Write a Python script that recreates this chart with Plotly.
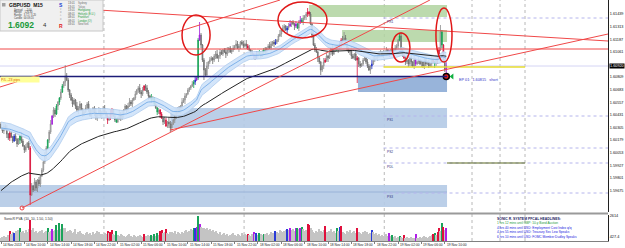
import pandas as pd
import plotly.graph_objects as go

# ---------------- data (GBPUSD M15) ----------------
close = [
    1.6030, 1.6027, 1.6032, 1.6029, 1.6024, 1.6020, 1.6025, 1.6021, 1.6017, 1.6022,
    1.6019, 1.6014, 1.6018, 1.6022, 1.6017, 1.6012, 1.6008, 1.6011, 1.6015, 1.6010,
    1.5963,
    1.5972, 1.5968, 1.5976, 1.5970, 1.5978, 1.5974, 1.5982, 1.5988,
    1.5996, 1.6003, 1.6010, 1.6018, 1.6026, 1.6034, 1.6042,
    1.6048, 1.6044, 1.6052, 1.6056, 1.6060, 1.6066, 1.6072, 1.6076, 1.6082, 1.6078, 1.6068,
    1.6063, 1.6058, 1.6054, 1.6058, 1.6052, 1.6048, 1.6050, 1.6054, 1.6048, 1.6044,
    1.6046, 1.6050, 1.6054, 1.6048, 1.6042, 1.6046, 1.6050, 1.6046, 1.6040, 1.6044,
    1.6048, 1.6042,
    1.6046, 1.6050, 1.6046, 1.6042, 1.6038, 1.6040, 1.6044, 1.6048, 1.6042, 1.6038,
    1.6036, 1.6040, 1.6044, 1.6040, 1.6044, 1.6048, 1.6052, 1.6048, 1.6052, 1.6056, 1.6054,
    1.6058, 1.6060, 1.6064, 1.6068, 1.6070, 1.6066, 1.6064, 1.6068, 1.6072, 1.6070, 1.6066,
    1.6062, 1.6060, 1.6058, 1.6060, 1.6054, 1.6050, 1.6046, 1.6048, 1.6044, 1.6040,
    1.6036, 1.6038, 1.6032, 1.6036, 1.6034, 1.6030,
    1.6034, 1.6038, 1.6042, 1.6046, 1.6050, 1.6046, 1.6052, 1.6056, 1.6058, 1.6062,
    1.6064, 1.6068, 1.6070, 1.6072, 1.6074, 1.6076, 1.6078,
    1.6080, 1.6118,
    1.6123, 1.6113, 1.6098,
    1.6088, 1.6083, 1.6092, 1.6096,
    1.6098, 1.6100, 1.6098, 1.6102, 1.6104, 1.6100, 1.6102, 1.6106, 1.6104, 1.6108,
    1.6106, 1.6104, 1.6108, 1.6110, 1.6106, 1.6108, 1.6110, 1.6112, 1.6114, 1.6110,
    1.6112, 1.6116, 1.6114, 1.6112, 1.6114, 1.6112,
    1.6110, 1.6108, 1.6106, 1.6104, 1.6102, 1.6100, 1.6103, 1.6106, 1.6104, 1.6102,
    1.6106, 1.6108, 1.6106, 1.6110, 1.6112, 1.6110, 1.6114, 1.6116, 1.6114, 1.6116, 1.6118,
    1.6122, 1.6124, 1.6128, 1.6130, 1.6132, 1.6128, 1.6130, 1.6132, 1.6134, 1.6136, 1.6134, 1.6132,
    1.6134, 1.6130, 1.6136, 1.6138, 1.6136, 1.6140, 1.6142, 1.6144, 1.6146, 1.6144,
    1.6134, 1.6123, 1.6113, 1.6108, 1.6106,
    1.6100, 1.6096, 1.6088, 1.6092, 1.6096, 1.6098,
    1.6102, 1.6100, 1.6106, 1.6110, 1.6104, 1.6108, 1.6112, 1.6108, 1.6110, 1.6114,
    1.6118, 1.6116, 1.6120, 1.6114, 1.6110,
    1.6106, 1.6108, 1.6102, 1.6100, 1.6104, 1.6098, 1.6100, 1.6094,
    1.6092, 1.6094, 1.6098, 1.6100, 1.6096, 1.6092, 1.6088, 1.6092, 1.6094, 1.6098, 1.6100,
    1.6100, 1.6102, 1.6104, 1.6106, 1.6102, 1.6104, 1.6106, 1.6108, 1.6104, 1.6106,
    1.6108, 1.6106, 1.6108, 1.6110,
    1.6112, 1.6118, 1.6122, 1.6108, 1.6103,
    1.6100, 1.6096, 1.6098, 1.6094, 1.6100, 1.6096, 1.6092, 1.6098, 1.6094, 1.6096,
    1.6098, 1.6094, 1.6096, 1.6092, 1.6098, 1.6094, 1.6096, 1.6092, 1.6094, 1.6098,
    1.6096, 1.6094, 1.6098, 1.6100,
    1.6108, 1.6126, 1.6113, 1.6098, 1.6088, 1.6092,
]
first_open = 1.6034
PIP = 0.0001
UP_WICK = ("2132413212 3121421312 2314213121 3212413221 1321432123 "
           "2142312132 3121241321 2312142132 1423121342 2131242312 "
           "3214213121 2132143212 3121423121 1324123212 2413212341 "
           "3212431223 1432123142 3121341232 2312431231 2413212341 "
           "2131242312 3121423121 1423121342 2132413212 3214213121 "
           "1321432123 2142312132 3212413221 2314213121 2312142132 "
           "3121241321")
DN_WICK = ("1231423121 2314213212 3121342312 2413212314 3212412313 "
           "1324213212 2131423213 3214123121 1232413212 3121324213 "
           "2413121324 1321242313 3212314212 2143121323 1232142314 "
           "3121423122 2314312132 1423213121 3212142312 2132413213 "
           "1421321324 3213121423 2312413212 1324212313 3121432121 "
           "2214312132 3121423212 1231421323 2413212132 3212131424 "
           "2131242312")
high_override = {44: 1.6093, 136: 1.6136, 210: 1.6150, 235: 1.6126, 273: 1.6125, 301: 1.6133}
low_override = {20: 1.5953, 116: 1.6026, 139: 1.6078, 219: 1.6083, 244: 1.6075, 305: 1.6084}

volume = [
    350, 420, 500, 380, 450, 600, 1000, 700, 900, 800, 1000, 900, 1100, 1400, 900, 1000, 800, 1100, 900, 1200, 2200,
    1100, 1300, 900, 1000, 800, 900, 1000, 1100, 800, 900, 1000,
    1300, 900, 1000, 1200, 1000, 1100, 1700, 1100, 1900, 1200, 1800,
    1300, 1400, 900, 1000, 1100,
    1000, 800, 900, 1200, 700, 900, 1000, 800, 700, 600, 800, 900, 700, 800, 600, 900, 700, 800, 1000, 900, 700,
    700, 600, 800, 700, 1000, 800, 900, 1100, 700, 600, 1000,
    600, 500, 700, 600, 500, 400, 500, 600, 700, 500, 400, 600, 500, 450, 550, 600, 500, 400,
    700, 500, 400, 600, 500, 600, 500, 700, 500, 800, 600, 1000, 1100, 800, 900, 1200, 800, 700, 900,
    900, 800, 1000, 700, 900, 800, 700, 900, 800, 1000, 1100, 900, 1000, 1200, 1100,
    1400, 1300, 1500, 2600, 1800,
    1500, 1400, 1300, 1200, 1300, 1100, 1200, 1000, 1100, 900, 1000,
    800, 700, 900, 600, 700, 800, 600, 700, 500, 600, 700, 800, 600, 500, 700, 600, 500, 800, 600, 700, 600,
    700, 600, 500, 700, 900, 700, 800, 600, 800, 700, 600, 700,
    700, 800, 600, 700, 900, 800, 700,
    1000,
    900, 800, 1100, 1000, 900, 1000, 1100,
    1200, 1100, 1300, 1100, 1200, 1000, 1300, 1400, 1200, 1300, 1500, 1200, 1000, 1100, 1800, 1700, 1300,
    1100, 900, 800, 1000, 900, 1200, 1000, 900, 1100,
    1600,
    900, 800, 1000, 1200, 900, 1000, 800,
    1300, 1000, 1500, 1600,
    900, 800, 700, 1000, 900, 1100, 800, 900, 1000, 800,
    1300,
    900, 800, 700, 900, 1000, 800, 900, 700, 800,
    1100,
    900, 700, 800, 600, 700, 500, 600, 500, 600, 700, 500,
    800, 500, 600,
    400, 500, 300, 400, 500, 400, 350, 600,
    300, 400, 350, 300, 400, 350, 300,
    700,
    350, 300, 400, 300, 450, 500, 400, 350, 450, 500, 600,
    700, 800, 600, 900, 1300, 1000, 1900, 1500, 1100, 1300,
]
pva_color = {6: 'r', 9: 'b', 13: 'G', 20: 'r', 32: 'G', 35: 'p', 38: 'G', 40: 'G', 42: 'G',
             73: 'r', 75: 'r', 76: 'r', 79: 'G', 98: 'r', 103: 'G', 105: 'G', 107: 'G',
             109: 'r', 110: 'r', 113: 'r', 132: 'G', 133: 'b', 134: 'p', 135: 'G', 136: 'p',
             169: 'r', 173: 'p', 175: 'b', 177: 'G', 180: 'G', 188: 'b', 196: 'b', 198: 'p',
             202: 'p', 203: 'G', 205: 'p', 206: 'G', 210: 'r', 211: 'r', 222: 'r', 230: 'G',
             232: 'b', 233: 'r', 244: 'r', 254: 'b', 266: 'p', 268: 'G', 273: 'G', 276: 'r',
             284: 'p', 296: 'r', 297: 'G', 299: 'r', 300: 'r', 302: 'G', 303: 'r', 305: 'p'}
black_line_seed = 1.5966

x_tick_bars = [0, 16, 32, 48, 64, 80, 96, 112, 128, 144, 160, 176, 192, 208, 224, 240, 256, 272, 288, 304]
x_tick_text = ["14 Nov 2013", "14 Nov 10:00", "14 Nov 14:00", "14 Nov 18:00", "14 Nov 22:00",
               "15 Nov 02:00", "15 Nov 06:00", "15 Nov 10:00", "15 Nov 14:00", "15 Nov 18:00",
               "15 Nov 22:00", "18 Nov 02:00", "18 Nov 06:00", "18 Nov 10:00", "18 Nov 14:00",
               "18 Nov 18:00", "18 Nov 22:00", "19 Nov 02:00", "19 Nov 06:00", "19 Nov 10:00"]
price_ticks = [1.61565, 1.61439, 1.61313, 1.61187, 1.61061, 1.60809, 1.60683, 1.60557,
               1.60431, 1.60305, 1.60179, 1.60053, 1.59927, 1.59801, 1.59675]
price_tick_text = ["1.61565", "1.61439", "1.61313", "1.61187", "1.61061", "1.60809", "1.60683",
                   "1.60557", "1.60431", "1.60305", "1.60179", "1.60053", "1.59927", "1.59801", "1.59675"]
vol_ticks = [2614, 427.4]
vol_tick_text = ["2614", "427.4"]
current_price = 1.6092
entry_price = 1.60815
day_separators = [70.5, 166.5, 262.5]
future_markers = [322.6, 341.8, 358.9]

# zones: (bar start, bar end, top price, bottom price, kind)
zones = [
    (211, 305.5, 1.6153, 1.6141, "res"),
    (233.6, 305.5, 1.6128, 1.6116, "res"),
    (244.5, 305.5, 1.60815, 1.6066, "sup_dark"),
    (116, 305.5, 1.6050, 1.6030, "sup"),
    (-1, 305.5, 1.5973, 1.5951, "sup"),
]
# trend lines: (bar0, price0, bar1, price1)
trend_lines = [
    (-0.7, 1.6071, 191.1, 1.6158),
    (-0.7, 1.6154, 415.8, 1.6117),
    (115.8, 1.6028, 415.8, 1.6124),
    (14.4, 1.5950, 293.8, 1.6158),
    (-0.7, 1.6109, 415.8, 1.6109),
]
# ellipses: (bar0, bar1, top price, bottom price)
ellipses = [
    (124.0, 143.2, 1.6143, 1.6103),
    (189.7, 223.3, 1.6156, 1.6120),
    (267.8, 280.1, 1.6125, 1.6096),
    (297.9, 308.9, 1.6150, 1.6096),
]
pivot_levels = [1.6140, 1.6042, 1.6010, 1.5995, 1.5965]
pivot_names = ["PR1", "PS1", "PS2", "PDL", "PS3"]
session_times = ["13:01", "13:01", "13:01", "08:01", "08:01", "08:01", "03:01"]
session_names = ["Sydney", "Tokyo", "Hongkong", "Helsinki (E.U.)", "Frankfurt", "London (O)", "NewYork"]
session_open = [False, False, True, True, True, True, False]
headlines = ["1 hrs 12 mins until GBP: 10-y Bond Auction",
             "4 hrs 40 mins until USD: Employment Cost Index q/q",
             "4 hrs 55 mins until USD: Treasury Sec Lew Speaks",
             "6 hrs 10 mins until USD: FOMC Member Dudley Speaks"]

# ---------------- build ----------------
N = len(close)
assert len(volume) == N, (len(volume), N)
up_w = [int(c) for c in UP_WICK.replace(" ", "")][:N]
dn_w = [int(c) for c in DN_WICK.replace(" ", "")][:N]
opens = [first_open] + close[:-1]
highs = [max(o, c) + u * PIP for o, c, u in zip(opens, close, up_w)]
lows = [min(o, c) - d * PIP for o, c, d in zip(opens, close, dn_w)]
for i, v in high_override.items():
    highs[i] = v
for i, v in low_override.items():
    lows[i] = v
bars = list(range(N))

ema_hi = pd.Series(highs).ewm(span=34, adjust=False).mean()
ema_lo = pd.Series(lows).ewm(span=34, adjust=False).mean()
ema_cl = pd.Series(close).ewm(span=34, adjust=False).mean()
ema89 = pd.Series([black_line_seed] + close).ewm(span=89, adjust=False).mean().iloc[1:]

W, H = 608.0, 241.0
def px(x): return x / W
def py(y): return 1 - y / H

FONT = "DejaVu Sans"
NARROW = "Liberation Sans"
fig = go.Figure()

# dragon band
fig.add_trace(go.Scatter(x=bars, y=ema_lo, mode="lines", line=dict(color="#aecbee", width=0.8),
                         hoverinfo="skip", showlegend=False))
fig.add_trace(go.Scatter(x=bars, y=ema_hi, mode="lines", line=dict(color="#aecbee", width=0.8),
                         fill="tonexty", fillcolor="rgba(206,226,249,0.9)", hoverinfo="skip", showlegend=False))
fig.add_trace(go.Scatter(x=bars, y=ema_cl, mode="lines", line=dict(color="#6aa4e4", width=0.8),
                         hoverinfo="skip", showlegend=False))
fig.add_trace(go.Scatter(x=bars, y=ema89, mode="lines", line=dict(color="#222222", width=1),
                         hoverinfo="skip", showlegend=False))

# candles
STYLE = {"up": ("#8c8c8c", "#dcdcdc"), "down": ("#6a6a6a", "#a0a0a0"),
         "r": ("#d8103a", "#e4183e"), "G": ("#12a050", "#1aa35a"),
         "b": ("#2030c8", "#2a3cd8"), "p": ("#a018d8", "#b01ee8")}
cats = []
for i in range(N):
    if i in pva_color:
        cats.append(pva_color[i])
    else:
        cats.append("up" if close[i] >= opens[i] else "down")
for cat, (lc, fc) in STYLE.items():
    idx = [i for i in range(N) if cats[i] == cat]
    if not idx:
        continue
    fig.add_trace(go.Candlestick(
        x=idx, open=[opens[i] for i in idx], high=[highs[i] for i in idx],
        low=[lows[i] for i in idx], close=[close[i] for i in idx],
        increasing=dict(line=dict(color=lc, width=0.8), fillcolor=fc),
        decreasing=dict(line=dict(color=lc, width=0.8), fillcolor=fc),
        whiskerwidth=0, hoverinfo="skip", showlegend=False))

# volume
VCOL = {"g": "#c4c4c4", "r": "#e0103c", "G": "#1aa35a", "b": "#2a3cd8", "p": "#b01ee8"}
vcolors = [VCOL[pva_color.get(i, "g")] for i in range(N)]
fig.add_trace(go.Bar(x=bars, y=volume, marker=dict(color=vcolors, line=dict(width=0)), width=0.72,
                     xaxis="x2", yaxis="y2", hoverinfo="skip", showlegend=False))

# entry marker
fig.add_trace(go.Scatter(x=[305], y=[entry_price], mode="markers",
                         marker=dict(symbol="circle", size=6, color="#e02020", line=dict(color="black", width=1.5)),
                         hoverinfo="skip", showlegend=False))
fig.add_trace(go.Scatter(x=[309], y=[entry_price], mode="markers",
                         marker=dict(symbol="triangle-left", size=5, color="#10b040"),
                         hoverinfo="skip", showlegend=False))
fig.add_trace(go.Scatter(x=[14.4], y=[1.5950], mode="markers",
                         marker=dict(symbol="circle-open", size=4, color="#ee4444", line=dict(width=1)),
                         hoverinfo="skip", showlegend=False))

shapes = []
ZCOL = {"res": "rgba(176,212,160,0.85)", "sup": "rgba(180,202,230,0.9)", "sup_dark": "rgba(146,176,216,0.95)"}
for b0, b1, pt, pb, kind in zones:
    shapes.append(dict(type="rect", xref="x", yref="y", x0=b0, x1=b1, y0=pb, y1=pt,
                       fillcolor=ZCOL[kind], line=dict(width=0), layer="below"))
shapes.append(dict(type="line", xref="x", yref="y", x0=-1, x1=305.5, y0=1.5966, y1=1.5966,
                   line=dict(color="#9ab3d8", width=1), layer="below"))
for v in day_separators + future_markers:
    shapes.append(dict(type="line", xref="x", yref="paper", x0=v, x1=v, y0=0, y1=1,
                       line=dict(color="#b8b8b8", width=1, dash="dot"), layer="below"))
for p in pivot_levels:
    shapes.append(dict(type="line", xref="x", yref="y", x0=262, x1=415.8, y0=p, y1=p,
                       line=dict(color="#b4b4ec", width=1, dash="dot"), layer="below"))
shapes.append(dict(type="line", xref="x", yref="y", x0=-1, x1=415.8, y0=current_price, y1=current_price,
                   line=dict(color="#d4d4f4", width=1), layer="below"))
shapes.append(dict(type="line", xref="x", yref="y", x0=262, x1=359, y0=1.6091, y1=1.6091,
                   line=dict(color="#e6dc30", width=1.6)))
shapes.append(dict(type="line", xref="x", yref="y", x0=305.5, x1=359, y0=1.5995, y1=1.5995,
                   line=dict(color="#5d6b20", width=1)))
shapes.append(dict(type="line", xref="x", yref="y", x0=-1, x1=305.5, y0=entry_price, y1=entry_price,
                   line=dict(color="#1c1c78", width=1.3)))
for b0, p0, b1, p1 in trend_lines:
    shapes.append(dict(type="line", xref="x", yref="y", x0=b0, x1=b1, y0=p0, y1=p1,
                       line=dict(color="#f04848", width=1)))
for b0, b1, pt, pb in ellipses:
    shapes.append(dict(type="circle", xref="x", yref="y", x0=b0, x1=b1, y0=pb, y1=pt,
                       line=dict(color="#e01818", width=1.5)))
shapes.append(dict(type="rect", xref="paper", yref="paper", x0=0, x1=1, y0=py(214.6), y1=py(212.4),
                   fillcolor="#9a9a9a", line=dict(width=0)))
# info panel
shapes.append(dict(type="rect", xref="paper", yref="paper", x0=0, x1=px(103), y0=py(31), y1=1,
                   fillcolor="#f0f0f0", line=dict(color="#c8c8c8", width=1), layer="above"))
shapes.append(dict(type="rect", xref="paper", yref="paper", x0=px(2), x1=px(5.5), y0=py(6.5), y1=py(3),
                   fillcolor="#a0a0a0", line=dict(width=0), layer="above"))

ann = []
def txt(x, y, s, size=4, color="#202020", xanchor="left", bold=False, family=NARROW, **kw):
    if bold:
        s = "<b>" + s + "</b>"
    d = dict(xref="paper", yref="paper", x=px(x), y=py(y), text=s, showarrow=False,
             xanchor=xanchor, yanchor="middle", font=dict(size=size, color=color, family=family))
    d.update(kw)
    ann.append(d)

txt(7, 4.6, "GBPUSD  M15", size=5, color="#101010", bold=True)
for k, s in enumerate(["Spread      2.00", "Range    126.30", "Range   3.72 / 3.20", "Candle  00:09:20"]):
    txt(12, 9.6 + 2.7 * k, s, size=2.6, color="#404040")
txt(6, 25.5, "1.6092", size=8.5, color="#1a9a3a", bold=True)
txt(41, 25.5, "4", size=6, color="#303030")
txt(56.5, 4.6, "S", size=5, color="#2040d0", bold=True)
for k, s in enumerate(["v", "o", "^", "o"]):
    txt(57.5, 9.4 + 3.4 * k, s, size=2.6, color="#909090")
txt(56.5, 26, "R", size=5, color="#e02020", bold=True)
for k in range(len(session_names)):
    yy = 3.5 + 3.5 * k
    txt(66, yy, session_times[k], size=2.7, color="#505050")
    txt(76, yy, session_names[k], size=2.7, color="#1a9a3a" if session_open[k] else "#707070")

# P/L label
ann.append(dict(xref="paper", yref="y", x=0, y=1.60785, text="P/L -23 pips", showarrow=False,
                xanchor="left", yanchor="middle", align="left", width=38, height=5, bgcolor="#ffff99",
                borderpad=0, font=dict(size=3.6, color="#e05a00", family=NARROW)))
ann.append(dict(xref="x", yref="y", x=312, y=1.60785, text="EP 01:  1.60815   short", showarrow=False,
                xanchor="left", yanchor="middle", font=dict(size=3.8, color="#3030c8", family=NARROW)))
for p, nm in zip(pivot_levels, pivot_names):
    ann.append(dict(xref="x", yref="y", x=263, y=p - 0.00035, text=nm, showarrow=False,
                    xanchor="left", yanchor="middle", font=dict(size=3.2, color="#303080", family=NARROW)))
ann.append(dict(xref="paper", yref="y", x=1, xshift=0.5, y=current_price, text="1.60920", showarrow=False,
                xanchor="left", yanchor="middle", bgcolor="#000000", borderpad=0,
                font=dict(size=3.8, color="white", family=NARROW)))
for b, s in zip(x_tick_bars, x_tick_text):
    ann.append(dict(xref="x", yref="paper", x=b, y=py(245), text=s, showarrow=False, xanchor="left",
                    yanchor="middle", font=dict(size=3.3, color="#202020", family=NARROW)))
txt(2, 218.5, "SonicR PVA  (10, 10, 1.50, 1.50)", size=3.4, color="#303030")
txt(495, 219, "SONIC R. SYSTEM PFCAL HEADLINES:", size=3.4, color="#202060", bold=True)
for k, s in enumerate(headlines):
    txt(495, 223.4 + 4.4 * k, s, size=3.2, color="#1a9a3a" if k == 0 else "#2020e0")

XR = [-0.685, 415.75]
fig.update_layout(
    template="none", width=625, height=248,
    margin=dict(l=0, r=17, t=0, b=7, pad=0),
    paper_bgcolor="white", plot_bgcolor="white",
    showlegend=False, font=dict(family=FONT),
    shapes=shapes, annotations=ann,
    xaxis=dict(domain=[0, 1], range=XR, anchor="y", showticklabels=False, showgrid=False,
               zeroline=False, showline=False, ticks="", rangeslider=dict(visible=False), automargin=False),
    xaxis2=dict(domain=[0, 1], range=XR, anchor="y2", matches="x", showticklabels=False, showgrid=False,
                zeroline=False, showline=True, linecolor="#808080", linewidth=1,
                ticks="outside", ticklen=2, tickcolor="#808080", tickvals=x_tick_bars, automargin=False),
    yaxis=dict(domain=[py(212), 1], range=[1.5946, 1.6158], side="right", anchor="x",
               tickvals=price_ticks, ticktext=price_tick_text,
               tickfont=dict(size=3.8, color="#101010", family=NARROW),
               showgrid=False, zeroline=False, showline=True, linecolor="#202020", linewidth=1,
               ticks="", automargin=False),
    yaxis2=dict(domain=[0, py(215)], range=[0, 2700], side="right", anchor="x2",
                tickvals=vol_ticks, ticktext=vol_tick_text,
                tickfont=dict(size=3.8, color="#101010", family=NARROW),
                showgrid=False, zeroline=False, showline=True, linecolor="#202020", linewidth=1,
                ticks="", automargin=False),
    bargap=0,
)
fig.write_html("out.html")
